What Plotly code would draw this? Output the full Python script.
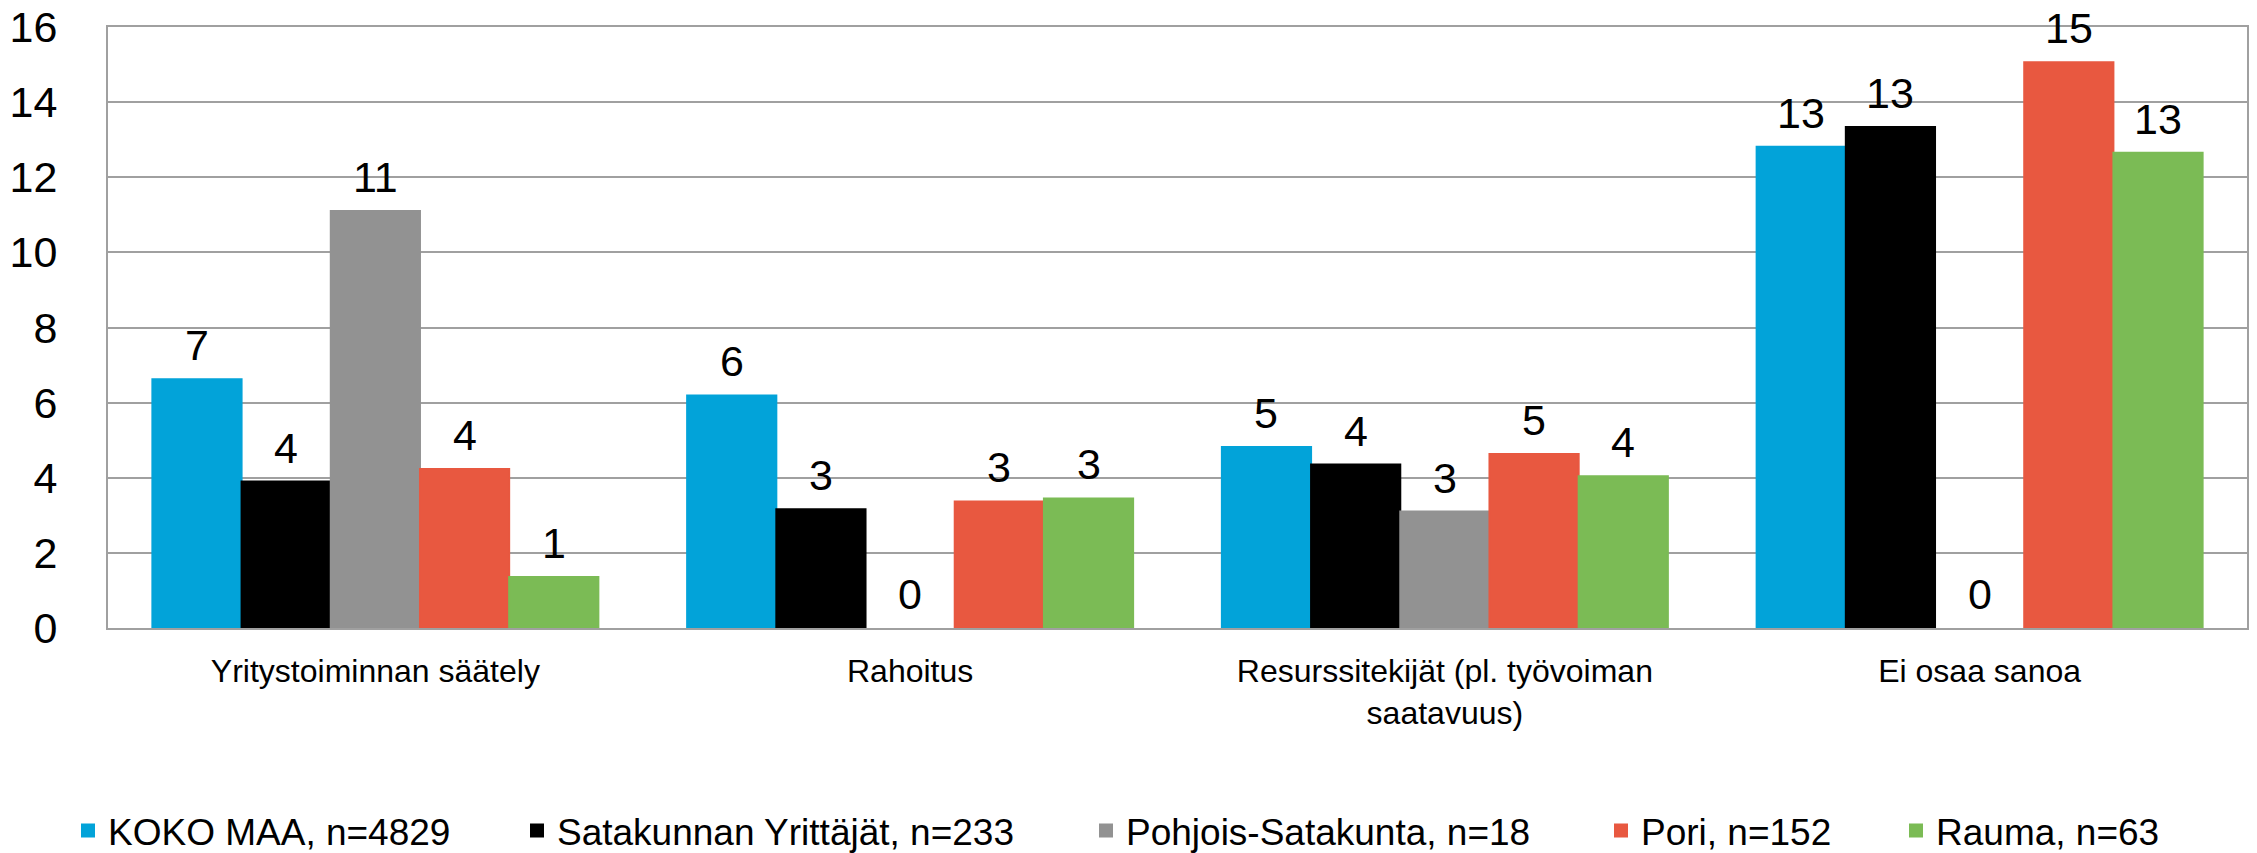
import plotly.graph_objects as go

categories = ["Yritystoiminnan säätely", "Rahoitus",
              "Resurssitekijät (pl. työvoiman<br>saatavuus)", "Ei osaa sanoa"]
series_names = ["KOKO MAA, n=4829", "Satakunnan Yrittäjät, n=233",
                "Pohjois-Satakunta, n=18", "Pori, n=152", "Rauma, n=63"]
koko_maa = [6.62, 6.19, 4.82, 12.81]
satakunnan_yrittajat = [3.90, 3.16, 4.35, 13.34]
pohjois_satakunta = [11.10, 0.0, 3.10, 0.0]
pori = [4.23, 3.37, 4.63, 15.06]
rauma = [1.36, 3.45, 4.04, 12.65]
colors = ["#02A3D9", "#000000", "#929292", "#E85840", "#7BBB55"]
y_ticks = [0, 2, 4, 6, 8, 10, 12, 14, 16]

W, H = 2257, 853
ML, MR, MT, MB = 108, 10, 27, 225
BARGAP = 0.166
FONT = "Arial, 'Liberation Sans', sans-serif"
values = [koko_maa, satakunnan_yrittajat, pohjois_satakunta, pori, rauma]
legend_px = [68, 517, 1086, 1601, 1896]

n_series = len(values)
cat_px = (W - ML - MR) / len(categories)
bar_px = cat_px * (1 - BARGAP) / n_series

fig = go.Figure()
annotations = []
for i, (name, vals, col) in enumerate(zip(series_names, values, colors)):
    fig.add_trace(go.Bar(
        x=categories, y=vals, name=name,
        marker=dict(color=col, line=dict(color=col, width=[2 if v > 0 else 0 for v in vals])),
        legend=f"legend{i+2}",
    ))
    for cat, v in zip(categories, vals):
        annotations.append(dict(
            x=cat, y=v, xref="x", yref="y", text=f"{v:.0f}", showarrow=False,
            xanchor="center", yanchor="bottom", borderpad=0,
            xshift=(i - (n_series - 1) / 2) * bar_px, yshift=9,
            font=dict(family=FONT, size=43, color="#000000"),
        ))

layout_legends = {}
for i, px in enumerate(legend_px):
    key = f"legend{i+2}"
    layout_legends[key] = dict(
        x=px / W, y=1 - 831 / H, xref="container", yref="container",
        xanchor="left", yanchor="middle", orientation="h",
        font=dict(family=FONT, size=37, color="#000000"),
        bgcolor="rgba(0,0,0,0)", itemwidth=30, tracegroupgap=0,
    )

fig.update_layout(
    width=W, height=H,
    margin=dict(l=ML, r=MR, t=MT, b=MB, autoexpand=False),
    paper_bgcolor="white", plot_bgcolor="white",
    bargap=BARGAP, bargroupgap=0,
    font=dict(family=FONT, color="#000000"),
    showlegend=True,
    annotations=annotations,
    xaxis=dict(
        showline=True, linecolor="#A0A0A0", linewidth=2, mirror=True,
        tickfont=dict(family=FONT, size=32, color="#000000"),
        ticks="", ticklabelstandoff=14, automargin=False,
    ),
    yaxis=dict(
        range=[0, 16], tickvals=y_ticks, showgrid=True, gridcolor="#A0A0A0", gridwidth=2,
        showline=True, linecolor="#A0A0A0", linewidth=2, mirror=True,
        tickfont=dict(family=FONT, size=43, color="#000000"),
        ticks="", ticklabelstandoff=40, zeroline=False, automargin=False,
    ),
    **layout_legends,
)

fig.write_html("out.html", config={"displayModeBar": False},
               post_script="document.body.style.margin='0px';")
